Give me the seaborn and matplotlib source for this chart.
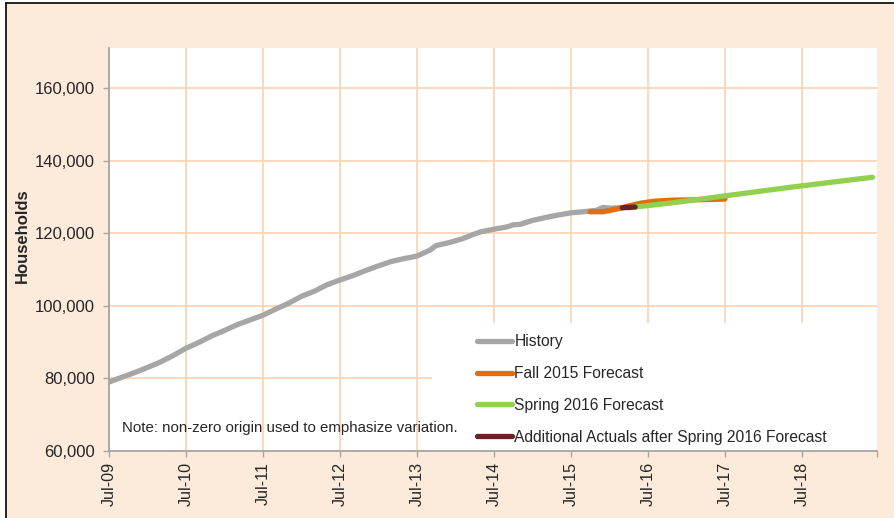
import pandas as pd
import matplotlib.pyplot as plt
import seaborn as sns
from matplotlib.patches import Rectangle
from matplotlib.lines import Line2D
from matplotlib.ticker import FuncFormatter

# Data (month index: 0 = Jul-09)
hist_month = [0, 2, 4, 6, 8, 10, 12, 14, 16, 18, 20, 22, 24, 26, 28, 30, 32, 34, 36, 38,
              40, 42, 44, 46, 48, 50, 51, 53, 55, 57, 58, 60, 62, 63, 64, 66, 68, 70, 72,
              74, 76, 77, 78, 80]
hist_value = [79000, 80300, 81600, 83000, 84500, 86300, 88300, 89900, 91700, 93200, 94800,
              96100, 97400, 99100, 100700, 102600, 104000, 105800, 107100, 108300, 109700,
              111000, 112200, 113000, 113700, 115300, 116600, 117400, 118400, 119800, 120400,
              121100, 121700, 122300, 122400, 123500, 124300, 125000, 125600, 125900, 126300,
              127100, 126900, 127000]

fall_month = [75, 77, 79, 81, 83, 85, 88, 92, 96]
fall_value = [125900, 125900, 126600, 127500, 128300, 128800, 129100, 129200, 129400]

spring_month = [81, 88, 94, 100, 106, 112, 119]
spring_value = [127000, 128400, 129800, 131200, 132600, 133900, 135400]

actual_month = [80, 81, 82]
actual_value = [127000, 127100, 127200]

tick_month = [0, 12, 24, 36, 48, 60, 72, 84, 96, 108]
tick_label = ['Jul-09', 'Jul-10', 'Jul-11', 'Jul-12', 'Jul-13', 'Jul-14', 'Jul-15',
              'Jul-16', 'Jul-17', 'Jul-18']

sns.set_style("white")
plt.rcParams['font.family'] = ['Liberation Sans', 'DejaVu Sans']

peach = '#FCEADA'
grid_c = '#FCD5B5'

fig = plt.figure(figsize=(8.94, 5.18), dpi=100, facecolor='white')
fig.patches.append(Rectangle((6 / 894, 0), 1, 1 - 3 / 518, transform=fig.transFigure,
                             facecolor=peach, edgecolor='none', zorder=-10))
fig.add_artist(Line2D([6 / 894, 6 / 894], [0, 1 - 3 / 518], color='black', lw=1.2))
fig.add_artist(Line2D([6 / 894, 1], [1 - 3 / 518, 1 - 3 / 518], color='black', lw=1.2))

ax = fig.add_axes([109 / 894, 1 - 451 / 518, 768 / 894, 403 / 518])
ax.set_facecolor('white')

series = [
    (hist_month, hist_value, '#A6A6A6', 'History'),
    (fall_month, fall_value, '#E46C0A', 'Fall 2015 Forecast'),
    (spring_month, spring_value, '#92D050', 'Spring 2016 Forecast'),
    (actual_month, actual_value, '#632523', 'Additional Actuals after Spring 2016 Forecast'),
]
for m, v, c, lab in series:
    sns.lineplot(x=m, y=v, ax=ax, color=c, lw=3.8, label=lab, zorder=4,
                 solid_capstyle='round')

ax.set_xlim(0, 119.7)
ax.set_ylim(60000, 171000)
ax.set_xticks(tick_month)
ax.set_xticklabels(tick_label, rotation=90, fontsize=11.6)
ax.set_xticks([119.7], minor=True)
ax.set_yticks([60000, 80000, 100000, 120000, 140000, 160000])
ax.yaxis.set_major_formatter(FuncFormatter(lambda v, p: f'{int(v):,}'))
ax.tick_params(axis='y', labelsize=12, length=4, width=1, color='#A6A6A6', left=True, pad=6)
ax.tick_params(axis='x', which='both', length=4, width=1, color='#A6A6A6', bottom=True, pad=4)

ax.grid(True, color=grid_c, lw=1.3, zorder=0)
ax.set_axisbelow(True)
for s in ['top', 'right']:
    ax.spines[s].set_visible(False)
for s in ['left', 'bottom']:
    ax.spines[s].set_color('#A6A6A6')
    ax.spines[s].set_linewidth(1.3)
    ax.spines[s].set_zorder(5)

ax.set_xlabel('')
ax.set_ylabel('Households', fontsize=12, fontweight='bold')
ax.yaxis.set_label_coords(-0.103, 0.535)

# white legend panel covering the grid
ax.add_patch(Rectangle((0.4206, 0), 0.5794, 0.3176, transform=ax.transAxes,
                       facecolor='white', edgecolor='none', zorder=2))
ax.legend(loc='upper left', bbox_to_anchor=(0.479, 0.29), frameon=False, fontsize=11.25,
          handlelength=2.25, handletextpad=0.15, labelspacing=1.08, borderpad=0,
          borderaxespad=0)

ax.text(0.017, 0.058, 'Note: non-zero origin used to emphasize variation.',
        transform=ax.transAxes, fontsize=10.8, va='center', ha='left', zorder=6)

fig.savefig('out.png', dpi=100, facecolor=fig.get_facecolor())
